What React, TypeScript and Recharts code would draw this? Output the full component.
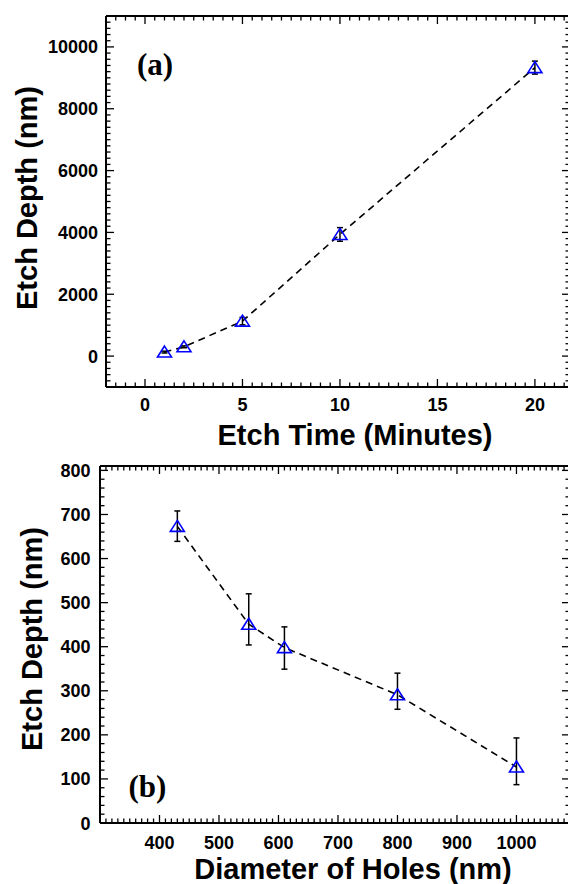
import React from "react";
import { ComposedChart, Line, XAxis, YAxis, ErrorBar } from "recharts";

// panel (a): etch depth vs etch time
const etchTime = [1, 2, 5, 10, 20];
const etchDepthA = [130, 300, 1130, 3935, 9330];
const etchErrA = [[30, 30], [30, 30], [120, 120], [220, 220], [210, 210]];

// panel (b): etch depth vs hole diameter
const holeDiameter = [430, 550, 610, 800, 1000];
const etchDepthB = [673, 451, 398, 291, 127];
const etchErrB = [[34, 35], [47, 69], [49, 47], [33, 49], [40, 66]];

const timeTicks = [0, 5, 10, 15, 20];
const depthTicksA = [0, 2000, 4000, 6000, 8000, 10000];
const diameterTicks = [400, 500, 600, 700, 800, 900, 1000];
const depthTicksB = [0, 100, 200, 300, 400, 500, 600, 700, 800];

const dataA = etchTime.map((x, i) => ({ x, y: etchDepthA[i], err: etchErrA[i] }));
const dataB = holeDiameter.map((x, i) => ({ x, y: etchDepthB[i], err: etchErrB[i] }));

const SANS = '"Liberation Sans", Arial, sans-serif';
const SERIF = '"Liberation Serif", "Times New Roman", serif';
const frame = { stroke: "#000", strokeWidth: 2 };

// minor positions strictly inside the domain, plus the labelled majors
function allTicks(min: number, max: number, step: number, majors: number[]) {
  const out: number[] = [];
  const first = Math.ceil(min / step + 1e-9);
  const last = Math.floor(max / step - 1e-9);
  for (let i = first; i <= last; i++) out.push(Math.round(i * step * 1000) / 1000);
  majors.forEach((m) => {
    if (!out.some((v) => Math.abs(v - m) < 1e-6)) out.push(m);
  });
  return out.sort((a, b) => a - b);
}

type Side = "bottom" | "top" | "left" | "right";

// inward tick marks, labels only on the bottom/left majors
function tickFactory(side: Side, majors: number[], gap = 0) {
  return (props: any) => {
    const { x, y, payload } = props;
    const v = payload.value;
    const major = majors.some((m) => Math.abs(m - v) < 1e-6);
    const len = major ? 8 : 4.5;
    const ln = { stroke: "#000", strokeWidth: 1.3 };
    let mark;
    if (side === "bottom") mark = <line x1={x} x2={x} y1={y} y2={y - len} {...ln} />;
    else if (side === "top") mark = <line x1={x} x2={x} y1={y} y2={y + len} {...ln} />;
    else if (side === "left") mark = <line x1={x} x2={x + len} y1={y} y2={y} {...ln} />;
    else mark = <line x1={x} x2={x - len} y1={y} y2={y} {...ln} />;
    let label = null;
    if (gap && major) {
      const common = { fontFamily: SANS, fontSize: 18, fontWeight: "bold", fill: "#000" };
      if (side === "bottom")
        label = (
          <text x={x} y={y + gap} textAnchor="middle" {...common}>
            {v}
          </text>
        );
      if (side === "left")
        label = (
          <text x={x - gap} y={y + 6.5} textAnchor="end" {...common}>
            {v}
          </text>
        );
    }
    return (
      <g>
        {mark}
        {label}
      </g>
    );
  };
}

const title = (x: number, y: number, text: string, rotate = false) => () =>
  (
    <text
      x={x}
      y={y}
      textAnchor="middle"
      transform={rotate ? `rotate(-90 ${x} ${y})` : undefined}
      fontFamily={SANS}
      fontSize={29}
      fontWeight="bold"
      fill="#000"
    >
      {text}
    </text>
  );

const panelTag = (x: number, y: number, text: string) => () =>
  (
    <text x={x} y={y} fontFamily={SERIF} fontSize={31} fontWeight="bold" fill="#000">
      {text}
    </text>
  );

const triangle = (props: any) => {
  const { cx, cy, index } = props;
  return (
    <path
      key={index}
      d={`M${cx},${cy - 6} L${cx + 7},${cy + 5} L${cx - 7},${cy + 5} Z`}
      fill="none"
      stroke="#0000ff"
      strokeWidth={1.6}
    />
  );
};

function Panel({
  data,
  xDomain,
  yDomain,
  xMajors,
  yMajors,
  xStep,
  yStep,
  height,
  top,
  yAxisWidth,
  xGap,
  yGap,
  xTitle,
  yTitle,
  tag,
}: any) {
  const xAll = allTicks(xDomain[0], xDomain[1], xStep, xMajors);
  const yAll = allTicks(yDomain[0], yDomain[1], yStep, yMajors);
  const common = {
    type: "number" as const,
    allowDataOverflow: true,
    interval: 0 as const,
    tickSize: 0,
    tickMargin: 0,
    tickLine: false,
    axisLine: frame,
  };
  return (
    <ComposedChart
      width={600}
      height={height}
      data={data}
      margin={{ top: top - 1, right: 29, bottom: 0, left: 0 }}
    >
      <XAxis
        {...common}
        xAxisId="b"
        dataKey="x"
        orientation="bottom"
        domain={xDomain}
        ticks={xAll}
        height={height - xTitle.plotBottom}
        tick={tickFactory("bottom", xMajors, xGap)}
        label={{ content: title(xTitle.x, xTitle.y, xTitle.text) }}
      />
      <XAxis
        {...common}
        xAxisId="t"
        dataKey="x"
        orientation="top"
        domain={xDomain}
        ticks={xAll}
        height={1}
        tick={tickFactory("top", xMajors)}
        label={{ content: panelTag(tag.x, tag.y, tag.text) }}
      />
      <YAxis
        {...common}
        yAxisId="l"
        dataKey="y"
        orientation="left"
        domain={yDomain}
        ticks={yAll}
        width={yAxisWidth}
        tick={tickFactory("left", yMajors, yGap)}
        label={{ content: title(yTitle.x, yTitle.y, yTitle.text, true) }}
      />
      <YAxis
        {...common}
        yAxisId="r"
        dataKey="y"
        orientation="right"
        domain={yDomain}
        ticks={yAll}
        width={1}
        tick={tickFactory("right", yMajors)}
      />
      <Line
        xAxisId="b"
        yAxisId="l"
        dataKey="y"
        type="linear"
        stroke="#000"
        strokeWidth={1.6}
        strokeDasharray="7 5"
        dot={triangle}
        activeDot={false}
        isAnimationActive={false}
      >
        <ErrorBar dataKey="err" direction="y" width={3} stroke="#000" strokeWidth={1.5} isAnimationActive={false} />
      </Line>
    </ComposedChart>
  );
}

export default function App() {
  return (
    <div
      style={{
        position: "fixed",
        left: 0,
        top: 0,
        width: 568,
        height: 884,
        overflow: "hidden",
        background: "#fff",
      }}
    >
      <div style={{ position: "absolute", left: 0, top: 0 }}>
        <Panel
          data={dataA}
          xDomain={[-2, 21.8]}
          yDomain={[-1000, 11000]}
          xMajors={timeTicks}
          yMajors={depthTicksA}
          xStep={0.5}
          yStep={200}
          height={455}
          top={16}
          yAxisWidth={106}
          xGap={24}
          yGap={8}
          xTitle={{ x: 355, y: 445, text: "Etch Time (Minutes)", plotBottom: 387 }}
          yTitle={{ x: 37, y: 198, text: "Etch Depth (nm)" }}
          tag={{ x: 137, y: 74.5, text: "(a)" }}
        />
      </div>
      <div style={{ position: "absolute", left: 0, top: 440 }}>
        <Panel
          data={dataB}
          xDomain={[300, 1090]}
          yDomain={[0, 810]}
          xMajors={diameterTicks}
          yMajors={depthTicksB}
          xStep={10}
          yStep={20}
          height={444}
          top={26}
          yAxisWidth={100}
          xGap={26}
          yGap={9.4}
          xTitle={{ x: 353, y: 438.5, text: "Diameter of Holes (nm)", plotBottom: 383 }}
          yTitle={{ x: 41.5, y: 199, text: "Etch Depth (nm)" }}
          tag={{ x: 128.5, y: 356.5, text: "(b)" }}
        />
      </div>
    </div>
  );
}
